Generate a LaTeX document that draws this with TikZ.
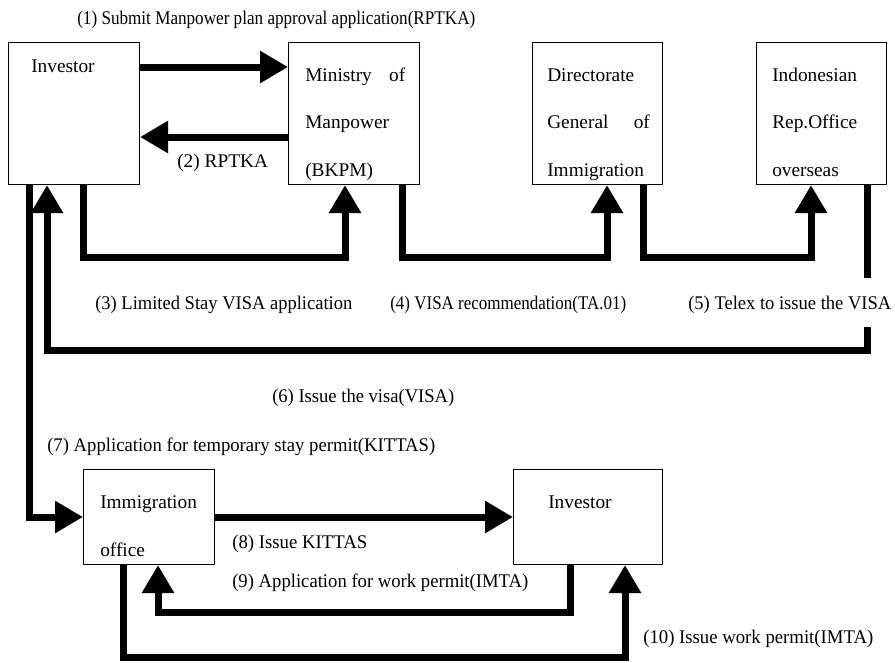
\documentclass[tikz,border=0pt]{standalone}
\usepackage{fontspec}
\usepackage{graphicx}
\setmainfont{Liberation Serif}
\usetikzlibrary{arrows.meta}
\newcommand{\fitto}[2]{\resizebox{#1pt}{\height}{#2}}
\begin{document}
\begin{tikzpicture}[x=0.75pt,y=-0.75pt,
  box/.style={draw, line width=0.8pt, inner sep=0pt, anchor=north west},
  txt/.style={inner sep=0pt, anchor=base west, font=\fontsize{14.5pt}{17pt}\selectfont},
  conn/.style={line width=5.25pt, line join=miter},
  flow/.style={conn, -{Triangle[length=21pt,width=23pt]}}]
\useasboundingbox (0,0) rectangle (895,662);
% boxes
\node[box, minimum width=98.25pt, minimum height=106.5pt] (inv1) at (8,42) {};
\node[box, minimum width=98.25pt, minimum height=106.5pt] (min) at (288,42) {};
\node[box, minimum width=97.5pt, minimum height=106.5pt] (dgi) at (532,42) {};
\node[box, minimum width=97.5pt, minimum height=106.5pt] (iro) at (756,42) {};
\node[box, minimum width=98.25pt, minimum height=71.25pt] (imm) at (83,469) {};
\node[box, minimum width=111.75pt, minimum height=71.25pt] (inv2) at (513,469) {};
% box texts
\node[txt] (tinv1) at (31,72) {Investor};
\node[txt] (tmin1) at (305,81) {\makebox[75pt][s]{Ministry\hfill of}};
\node[txt] (tmin2) at (305,128) {Manpower};
\node[txt] (tmin3) at (305,176) {(BKPM)};
\node[txt] (tdgi1) at (547,81) {Directorate};
\node[txt] (tdgi2) at (547,128) {\makebox[77pt][s]{General\hfill of}};
\node[txt] (tdgi3) at (547,176) {Immigration};
\node[txt] (tiro1) at (772,81) {Indonesian};
\node[txt] (tiro2) at (772,128) {Rep.Office};
\node[txt] (tiro3) at (772,176) {overseas};
\node[txt] (timm1) at (100,508) {Immigration};
\node[txt] (timm2) at (100,556) {office};
\node[txt] (tinv2) at (548,508) {Investor};
% labels
\node[txt] (l1) at (77,24) {\fitto{298.5}{(1) Submit Manpower plan approval application(RPTKA)}};
\node[txt] (l2) at (177,167) {(2) RPTKA};
\node[txt] (l3) at (95,309) {\fitto{192.75}{(3) Limited Stay VISA application}};
\node[txt] (l4) at (390,309) {\fitto{177}{(4) VISA recommendation(TA.01)}};
\node[txt] (l5) at (688,309) {\fitto{152.25}{(5) Telex to issue the VISA}};
\node[txt] (l6) at (272,402) {\fitto{136.5}{(6) Issue the visa(VISA)}};
\node[txt] (l7) at (47,451) {\fitto{291}{(7) Application for temporary stay permit(KITTAS)}};
\node[txt] (l8) at (232,548) {\fitto{101.25}{(8) Issue KITTAS}};
\node[txt] (l9) at (232,587) {\fitto{222}{(9) Application for work permit(IMTA)}};
\node[txt] (l10) at (643,643) {\fitto{172.5}{(10) Issue work permit(IMTA)}};
% connectors
\draw[flow] (inv1.east |- 0,67) -- (min.west |- 0,67);
\draw[flow] (min.west |- 0,137) -- (inv1.east |- 0,137);
\draw[flow] (83,0 |- inv1.south) -- (83,257) -- (345,257) -- (345,0 |- min.south);
\draw[flow] (402,0 |- min.south) -- (402,257) -- (607,257) -- (607,0 |- dgi.south);
\draw[flow] (643,0 |- dgi.south) -- (643,257) -- (811,257) -- (811,0 |- iro.south);
\coordinate (g5a) at (867,278);
\coordinate (g5b) at (867,327);
\draw[conn] (867,0 |- iro.south) -- (g5a);
\draw[flow] (g5b) -- (867,350) -- (47,350) -- (47,0 |- inv1.south);
\draw[flow] (29,0 |- inv1.south) -- (29,517) -- (imm.west |- 0,517);
\draw[flow] (imm.east |- 0,517) -- (inv2.west |- 0,517);
\draw[flow] (570,0 |- inv2.south) -- (570,612) -- (158,612) -- (158,0 |- imm.south);
\draw[flow] (123,0 |- imm.south) -- (123,657) -- (625,657) -- (625,0 |- inv2.south);
\end{tikzpicture}
\end{document}
